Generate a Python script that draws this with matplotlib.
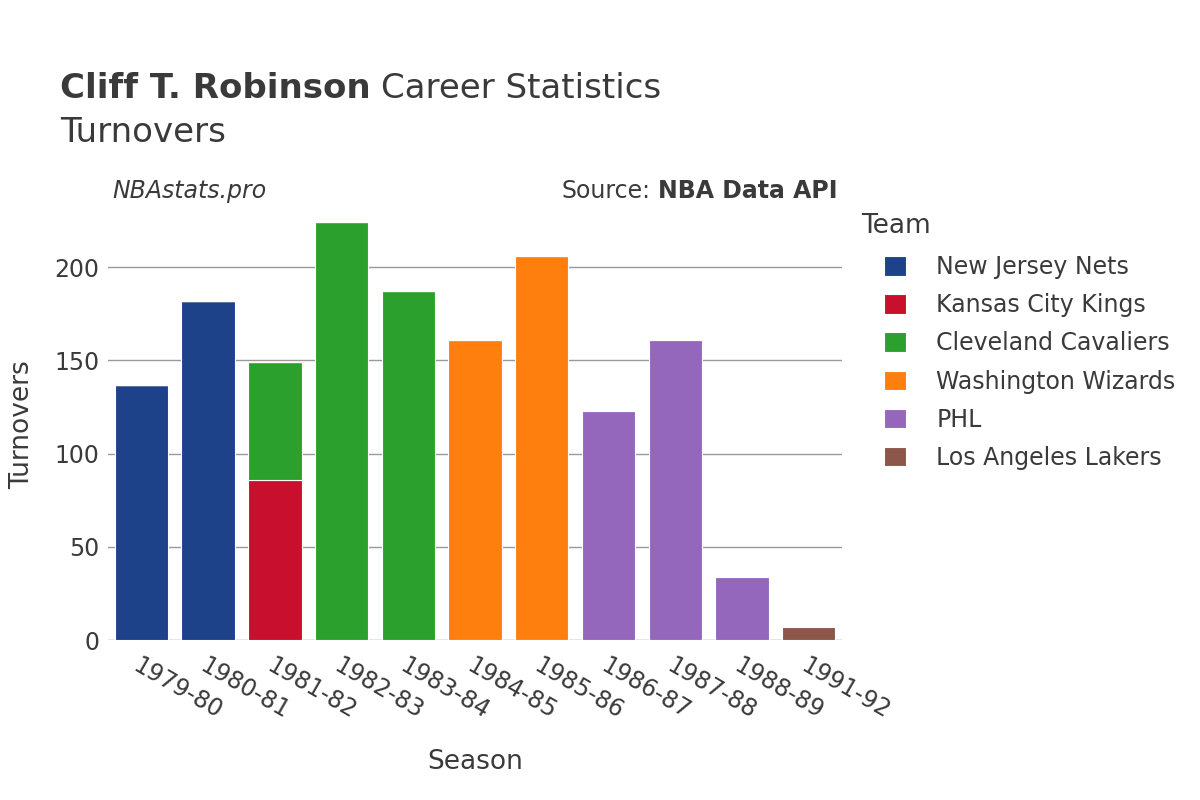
import matplotlib.pyplot as plt
import numpy as np

# data
seasons = ['1979-80', '1980-81', '1981-82', '1982-83', '1983-84', '1984-85',
           '1985-86', '1986-87', '1987-88', '1988-89', '1991-92']
teams = ['New Jersey Nets', 'Kansas City Kings', 'Cleveland Cavaliers',
         'Washington Wizards', 'PHL', 'Los Angeles Lakers']
colors = ['#1d428a', '#c8102e', '#2ca02c', '#ff7f0e', '#9467bd', '#8c564b']

nets = [137, 182, 0, 0, 0, 0, 0, 0, 0, 0, 0]
kings = [0, 0, 86, 0, 0, 0, 0, 0, 0, 0, 0]
cavs = [0, 0, 63, 224, 187, 0, 0, 0, 0, 0, 0]
wizards = [0, 0, 0, 0, 0, 161, 206, 0, 0, 0, 0]
phl = [0, 0, 0, 0, 0, 0, 0, 123, 161, 34, 0]
lakers = [0, 0, 0, 0, 0, 0, 0, 0, 0, 0, 7]
series = [nets, kings, cavs, wizards, phl, lakers]

txt = '#3a3a3a'
plt.rcParams['font.family'] = ['DejaVu Sans']

fig = plt.figure(figsize=(12, 8), dpi=100)
ax = fig.add_axes([0.09, 0.2, 0.6117, 0.5375])

x = np.arange(len(seasons))
bottom = np.zeros(len(seasons))
for name, vals, c in zip(teams, series, colors):
    vals = np.array(vals, dtype=float)
    ax.bar(x, vals, 0.8, bottom=bottom, color=c, label=name,
           edgecolor='white', linewidth=0.8, zorder=3)
    bottom += vals

ax.set_xlim(-0.5, 10.5)
ax.set_ylim(0, 230.6)
ax.set_yticks([0, 50, 100, 150, 200])
ax.yaxis.grid(True, color='#999999', linewidth=1, zorder=0)
ax.axhline(0, color='#e6e6e6', linewidth=2, zorder=2)
for s in ax.spines.values():
    s.set_visible(False)
ax.tick_params(axis='both', length=0, labelsize=17, labelcolor=txt)
ax.tick_params(axis='y', pad=6)
ax.set_xticks(x)
ax.set_xticklabels(seasons, rotation=-30, ha='left', rotation_mode='anchor')
ax.tick_params(axis='x', pad=10)

ax.set_xlabel('Season', fontsize=19, color=txt, labelpad=18)
ax.set_ylabel('Turnovers', fontsize=19, color=txt, labelpad=14)

t1 = fig.text(0.05, 0.889, 'Cliff T. Robinson', fontsize=24.5, fontweight='bold',
              color=txt, va='center')
fig.text(0.05, 0.835, 'Turnovers', fontsize=24.5, color=txt, va='center')
fig.text(0.094, 0.761, 'NBAstats.pro', fontsize=17, style='italic',
         color=txt, va='center')
src = fig.text(0.698, 0.761, 'NBA Data API', fontsize=17, fontweight='bold',
               color=txt, va='center', ha='right')

fig.canvas.draw()
r = fig.canvas.get_renderer()
bb = t1.get_window_extent(r)
fig.text(bb.x1 / 1200 + 0.009, 0.889, 'Career Statistics', fontsize=24.5,
         color=txt, va='center')
bb2 = src.get_window_extent(r)
fig.text(bb2.x0 / 1200 - 0.006, 0.761, 'Source:', fontsize=17, color=txt,
         va='center', ha='right')

# legend title drawn separately so the entries can be indented
fig.text(0.718, 1 - 226 / 800, 'Team', fontsize=19, color=txt, va='center')
leg = fig.legend(loc='upper left', bbox_to_anchor=(0.737, 1 - 255 / 800),
                 frameon=False, fontsize=17,
                 handlelength=0.9, handleheight=0.9, labelspacing=0.6,
                 handletextpad=1.3, borderaxespad=0, borderpad=0)
for t in leg.get_texts():
    t.set_color(txt)

fig.savefig('out.png', dpi=100)
